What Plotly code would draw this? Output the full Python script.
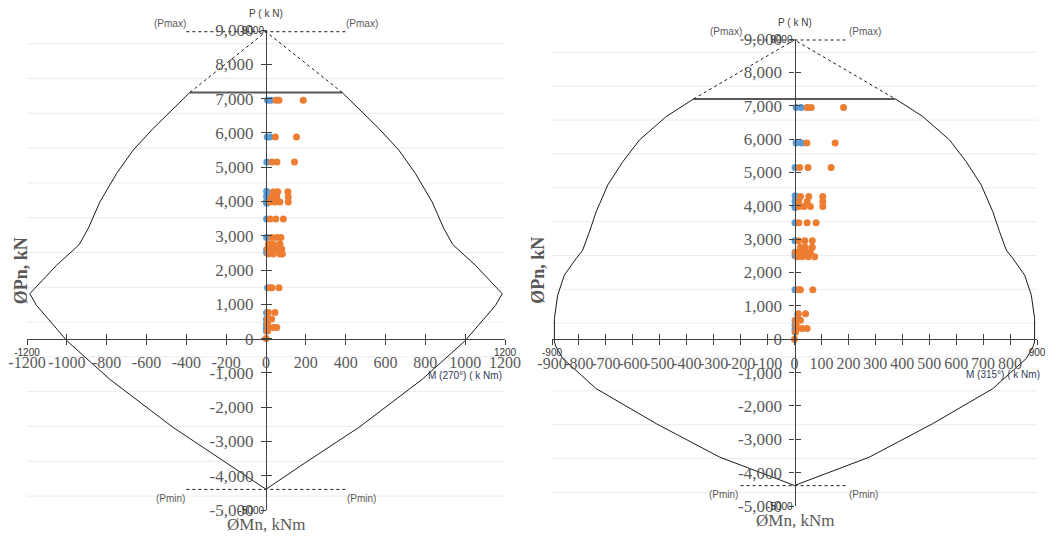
import plotly.graph_objects as go

# ------------------------------------------------------------------ data
# Left panel: interaction diagram for M (270°)
M270_curve = [-382, -566, -667, -750, -834, -893, -938, -1052, -1186, -1152, -997, -784, -466, -198, 0,
              198, 466, 784, 997, 1152, 1186, 1052, 938, 893, 834, 750, 667, 566, 382]
P270_curve = [7180, 6131, 5497, 4816, 3986, 3207, 2740, 2135, 1307, 965, -80, -1190, -2593, -3617, -4395,
              -3617, -2593, -1190, -80, 965, 1307, 2135, 2740, 3207, 3986, 4816, 5497, 6131, 7180]
M270_cap = [-382, 382]
P270_cap = [7180, 7180]
M270_slope = [-382, 0, 382]
P270_slope = [7180, 8950, 7180]
M270_pmax = [-400, 400]
P270_pmax = [8950, 8950]
M270_pmin = [-400, 400]
P270_pmin = [-4400, -4400]

# Right panel: interaction diagram for M (315°)
M315_curve = [-375, -476, -575, -637, -693, -736, -761, -786, -810, -854, -879, -891, -891, -885, -860, -736,
              -513, -278, 0, 278, 513, 736, 860, 885, 891, 891, 879, 854, 810, 786, 761, 736, 693, 637, 575,
              476, 375]
P315_curve = [7200, 6676, 5976, 5324, 4625, 3823, 3222, 2673, 2423, 1922, 1321, 622, -80, -231, -580, -1482,
              -2532, -3534, -4385, -3534, -2532, -1482, -580, -231, -80, 622, 1321, 1922, 2423, 2673, 3222,
              3823, 4625, 5324, 5976, 6676, 7200]
M315_cap = [-375, 375]
P315_cap = [7200, 7200]
M315_slope = [-375, 0, 375]
P315_slope = [7200, 8970, 7200]
M315_pmax = [-200, 200]
P315_pmax = [8970, 8970]
M315_pmin = [-200, 200]
P315_pmin = [-4390, -4390]

# Applied loads (blue and orange series)
blue_P = [6950, 6950, 5880, 5880, 5150, 4300, 4150, 4000, 3950, 3490, 2950, 2600, 2500, 1480, 750, 560, 420, 300, 220]
blue_M270 = [8, 25, 6, 20, 4, 3, 3, 3, 3, 3, 3, 3, 3, 8, 3, 2, 2, 2, 2]
blue_M315 = [6, 25, 6, 27, 2, 2, 2, 2, 2, 2, 2, 2, 2, 2, 12, 2, 2, 2, 2]

orange_P = [6950, 6950, 6950, 5880, 5880, 5150, 5150, 5150,
            4280, 4280, 4280, 4130, 4130, 4130, 3980, 3980, 3980, 3980,
            3490, 3490, 3490, 2950, 2950, 2950, 2760, 2760, 2760,
            2610, 2610, 2610, 2610, 2470, 2470, 2470, 2470,
            1480, 1480, 1480, 760, 760, 570, 570, 420, 320, 320, 320, 220, 0]
orange_M270 = [50, 65, 187, 47, 153, 30, 55, 143,
               37, 59, 110, 28, 54, 112, 20, 45, 70, 112,
               20, 49, 87, 28, 54, 75, 12, 37, 70,
               8, 28, 54, 79, 12, 37, 70, 82,
               20, 30, 65, 12, 45, 8, 28, 8, 12, 37, 54, 8, 0]
orange_M315 = [47, 62, 182, 46, 151, 19, 50, 136,
               22, 53, 105, 16, 47, 105, 16, 35, 59, 105,
               16, 47, 80, 14, 38, 66, 22, 40, 66,
               4, 22, 40, 59, 10, 28, 51, 75,
               14, 22, 68, 14, 41, 4, 22, 6, 10, 28, 47, 4, 0]

# Axis ticks
L_xticks = [-1200, -1000, -800, -600, -400, -200, 0, 200, 400, 600, 800, 1000, 1200]
L_xtext = ["-1200", "-1000", "-800", "-600", "-400", "-200", "0", "200", "400", "600", "800", "1000", "1200"]
R_xticks = [-900, -800, -700, -600, -500, -400, -300, -200, -100, 0, 100, 200, 300, 400, 500, 600, 700, 800, 900]
R_xtext = ["-900", "-800", "-700", "-600", "-500", "-400", "-300", "-200", "-100", "0", "100", "200", "300",
           "400", "500", "600", "700", "800", "900"]
yticks = [-5000, -4000, -3000, -2000, -1000, 0, 1000, 2000, 3000, 4000, 5000, 6000, 7000, 8000, 9000]
ytext = ["-5,000", "-4,000", "-3,000", "-2,000", "-1,000", "0", "1,000", "2,000", "3,000", "4,000",
         "5,000", "6,000", "7,000", "8,000", "9,000"]
grid_P = [8600, 7585, 6570, 5555, 4540, 3525, 2510, 1495, 480, -535, -1550, -2565, -3580, -4595]

L_xrange = [-1200, 1200]
R_xrange = [-900, 900]
yrange = [-5000, 9000]

# ------------------------------------------------------------------ layout helpers
OFF = 8                      # page body margin
W, H = 1055 - 2 * OFF, 542 - 2 * OFF


def px_x(p):
    return (p - OFF) / W


def px_y(p):
    return 1 - (p - OFF) / H


L_dx = [px_x(27), px_x(505)]
L_dy = [px_y(510), px_y(30)]
R_dx = [px_x(552), px_x(1037)]
R_dy = [px_y(506), px_y(39)]


def pos(dom, rng, v):
    return dom[0] + (v - rng[0]) / (rng[1] - rng[0]) * (dom[1] - dom[0])


SERIF = "Liberation Serif"
SANS = "Liberation Sans"
GRAY = "#595959"
AXC = "#404040"
BLACK = "#1a1a1a"
TICKSIZE = 16

fig = go.Figure()


def add_panel(xa, ya, oxa, oya, Mc, Pc, Mcap, Pcap, Ms, Ps, Mpx, Ppx, Mpn, Ppn, bM, oM):
    fig.add_trace(go.Scatter(x=Mc, y=Pc, mode="lines", line=dict(color=BLACK, width=1),
                             xaxis=xa, yaxis=ya, hoverinfo="skip"))
    fig.add_trace(go.Scatter(x=Mcap, y=Pcap, mode="lines", line=dict(color="#595959", width=2),
                             xaxis=xa, yaxis=ya, hoverinfo="skip"))
    fig.add_trace(go.Scatter(x=Ms, y=Ps, mode="lines", line=dict(color=BLACK, width=1, dash="dot"),
                             xaxis=xa, yaxis=ya, hoverinfo="skip"))
    fig.add_trace(go.Scatter(x=Mpx, y=Ppx, mode="lines", line=dict(color=BLACK, width=1, dash="dot"),
                             xaxis=xa, yaxis=ya, hoverinfo="skip"))
    fig.add_trace(go.Scatter(x=Mpn, y=Ppn, mode="lines", line=dict(color=BLACK, width=1, dash="dot"),
                             xaxis=xa, yaxis=ya, hoverinfo="skip"))
    fig.add_trace(go.Scatter(x=bM, y=blue_P, mode="markers", marker=dict(color="#5B9BD5", size=7),
                             xaxis=xa, yaxis=ya))
    fig.add_trace(go.Scatter(x=oM, y=orange_P, mode="markers", marker=dict(color="#ED7D31", size=7),
                             xaxis=xa, yaxis=ya))
    fig.add_trace(go.Scatter(x=[0], y=[0], mode="markers", marker=dict(opacity=0),
                             xaxis=oxa, yaxis=oya, hoverinfo="skip"))


add_panel("x", "y", "x3", "y3", M270_curve, P270_curve, M270_cap, P270_cap, M270_slope, P270_slope,
          M270_pmax, P270_pmax, M270_pmin, P270_pmin, blue_M270, orange_M270)
add_panel("x2", "y2", "x4", "y4", M315_curve, P315_curve, M315_cap, P315_cap, M315_slope, P315_slope,
          M315_pmax, P315_pmax, M315_pmin, P315_pmin, blue_M315, orange_M315)


def main_x(dom_x, dom_y, rng, tv, tt):
    return dict(domain=dom_x, range=rng, anchor="free", position=pos(dom_y, yrange, 0),
                tickmode="array", tickvals=tv, ticktext=tt, ticks="outside", ticklen=5, tickangle=0,
                tickcolor=AXC, showline=True, linecolor=AXC, linewidth=1.3, showgrid=False,
                zeroline=False, tickfont=dict(family=SERIF, size=TICKSIZE, color=GRAY),
                ticklabelstandoff=4, fixedrange=True, automargin=False)


def main_y(dom_y, dom_x, xr):
    return dict(domain=dom_y, range=yrange, anchor="free", position=pos(dom_x, xr, 0), side="left",
                tickmode="array", tickvals=yticks, ticktext=ytext, ticks="outside", ticklen=5,
                tickcolor=AXC, showline=True, linecolor=AXC, linewidth=1.3, showgrid=False,
                zeroline=False, tickfont=dict(family=SERIF, size=TICKSIZE + 1, color=GRAY),
                ticklabelstandoff=4, fixedrange=True, automargin=False)


def over_x(main, dom_y, rng, tv):
    tt = [str(v) if v in (rng[0], rng[1]) else "" for v in tv]
    return dict(overlaying=main, range=rng, anchor="free", position=pos(dom_y, yrange, 0),
                tickmode="array", tickvals=tv, ticktext=tt, ticks="inside", ticklen=5, tickangle=0,
                tickcolor=AXC, showline=False, showgrid=False, zeroline=False,
                tickfont=dict(family=SANS, size=10, color="#333333"), ticklabelstandoff=6,
                fixedrange=True, automargin=False)


def over_y(main, dom_x, xr):
    tt = [str(v) if v in (yrange[0], yrange[1]) else "" for v in yticks]
    return dict(overlaying=main, range=yrange, anchor="free", position=pos(dom_x, xr, 0), side="left",
                tickmode="array", tickvals=yticks, ticktext=tt, ticks="inside", ticklen=5,
                tickcolor=AXC, showline=False, showgrid=False, zeroline=False,
                tickfont=dict(family=SANS, size=10, color="#333333"), ticklabelstandoff=2,
                fixedrange=True, automargin=False)


shapes = []
for g in grid_P:
    shapes.append(dict(type="line", xref="x domain", yref="y", x0=0, x1=1, y0=g, y1=g,
                       line=dict(color="#EBEBEB", width=1), layer="below"))
    shapes.append(dict(type="line", xref="x2 domain", yref="y2", x0=0, x1=1, y0=g, y1=g,
                       line=dict(color="#EBEBEB", width=1), layer="below"))


def ann(text, x, y, dx, xr, size=10, color=GRAY, family=SANS, xanchor="center", angle=0, bold=False):
    # positions given in data units, converted to paper so they stay visible outside the axis range
    t = f"<b>{text}</b>" if bold else text
    dom_x, dom_y = dx
    return dict(text=t, x=pos(dom_x, xr, x), y=pos(dom_y, yrange, y), xref="paper", yref="paper",
                showarrow=False, xanchor=xanchor, yanchor="middle", textangle=angle,
                font=dict(family=family, size=size, color=color))


L = (L_dx, L_dy)
R = (R_dx, R_dy)
annotations = [
    ann("P ( k N)", 0, 9474, L, L_xrange, color="#404040"),
    ann("(Pmax)", -480, 9180, L, L_xrange),
    ann("(Pmax)", 480, 9180, L, L_xrange),
    ann("(Pmin)", -480, -4650, L, L_xrange),
    ann("(Pmin)", 480, -4650, L, L_xrange),
    ann("M (270°) ( k Nm)", 1195, -1082, L, L_xrange, color="#2F3B59", xanchor="right"),
    ann("ØMn, kNm", 0, -5420, L, L_xrange, size=17, family=SERIF),
    ann("ØPn, kN", -1226, 1990, L, L_xrange, size=18, family=SERIF, angle=-90, bold=True),
    ann("P ( k N)", 0, 9490, R, R_xrange, color="#404040"),
    ann("(Pmax)", -256, 9219, R, R_xrange),
    ann("(Pmax)", 260, 9219, R, R_xrange),
    ann("(Pmin)", -262, -4655, R, R_xrange),
    ann("(Pmin)", 255, -4655, R, R_xrange),
    ann("M (315°) ( k Nm)", 919, -1051, R, R_xrange, color="#2F3B59", xanchor="right"),
    ann("ØMn, kNm", 0, -5440, R, R_xrange, size=17, family=SERIF),
    ann("ØPn, kN", -950, 2070, R, R_xrange, size=18, family=SERIF, angle=-90, bold=True),
]

fig.update_layout(
    width=W, height=H, margin=dict(l=0, r=0, t=0, b=0, autoexpand=False),
    paper_bgcolor="white", plot_bgcolor="white", showlegend=False,
    xaxis=main_x(L_dx, L_dy, L_xrange, L_xticks, L_xtext),
    yaxis=main_y(L_dy, L_dx, L_xrange),
    xaxis2=main_x(R_dx, R_dy, R_xrange, R_xticks, R_xtext),
    yaxis2=main_y(R_dy, R_dx, R_xrange),
    xaxis3=over_x("x", L_dy, L_xrange, L_xticks),
    yaxis3=over_y("y", L_dx, L_xrange),
    xaxis4=over_x("x2", R_dy, R_xrange, R_xticks),
    yaxis4=over_y("y2", R_dx, R_xrange),
    shapes=shapes, annotations=annotations,
)

fig.write_html("out.html")
